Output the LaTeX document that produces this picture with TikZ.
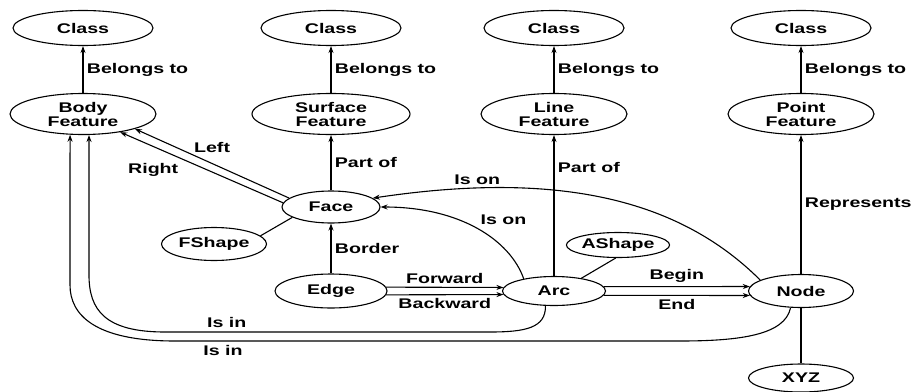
\documentclass[tikz,border=0pt]{standalone}
\usepackage{fontspec}
\setmainfont{Liberation Sans}[FakeStretch=1.4]
\usetikzlibrary{shapes, arrows.meta, positioning}

\begin{document}
\begin{tikzpicture}[x=1pt, y=1pt, node distance=86pt,
  font=\fontsize{14}{14}\selectfont\bfseries]

% Define block styles
\tikzstyle{ent} = [ellipse, draw=black, line width=1.1pt, inner sep=0pt, align=center]
\tikzstyle{cls} = [ent, minimum width=140pt, minimum height=35pt]
\tikzstyle{feat} = [ent, minimum width=146pt, minimum height=41pt]
\tikzstyle{arrow} = [line width=1.1pt, -{Stealth[length=7pt,width=5pt]}]
\tikzstyle{link} = [line width=1.1pt]

\useasboundingbox (0,0) rectangle (923,-391);

% Define nodes
\node (body) [feat] at (83,-114) {Body\\Feature};
\node (cls1) [cls, above of=body] {Class};
\node (surf) [feat, minimum width=158pt] at (331,-114) {Surface\\Feature};
\node (cls2) [cls, above of=surf] {Class};
\node (line) [feat] at (554,-114) {Line\\Feature};
\node (cls3) [cls, above of=line] {Class};
\node (point) [feat] at (801,-114) {Point\\Feature};
\node (cls4) [cls, above of=point] {Class};

\node (face) [ent, minimum width=98pt, minimum height=32pt] at (331,-207) {Face};
\node (fshape) [ent, minimum width=105pt, minimum height=33pt] at (214,-244) {FShape};
\node (edge) [ent, minimum width=112pt, minimum height=34pt] at (331,-291) {Edge};
\node (arc) [ent, minimum width=103pt, minimum height=29pt] at (554,-291) {Arc};
\node (ashape) [ent, minimum width=97pt, minimum height=25pt] at (618,-245) {AShape};
\node (pnode) [ent, minimum width=105pt, minimum height=33pt] at (801,-291) {Node};
\node (xyz) [ent, minimum width=105pt, minimum height=28pt] at (801,-378) {XYZ};

% Draw arrows
\draw [arrow] (body) -- node[right] {Belongs to} (cls1);
\draw [arrow] (surf) -- node[right] {Belongs to} (cls2);
\draw [arrow] (line) -- node[right] {Belongs to} (cls3);
\draw [arrow] (point) -- node[right] {Belongs to} (cls4);

\draw [arrow] (face) -- node[right] {Part of} (surf);
\draw [arrow] (arc) -- node[right, pos=0.77] {Part of} (line);
\draw [arrow] (pnode) -- node[right] {Represents} (point);
\draw [arrow] (edge) -- node[right] {Border} (face);

\draw [arrow] (face.168) -- node[midway, above=7pt] {Left} (body.-16);
\draw [arrow] (face.175) -- node[pos=0.62, below left] {Right} (body.-26);

\draw [arrow] (edge.4) -- node[above] {Forward} (arc.176);
\draw [arrow] (edge.-4) -- node[below] {Backward} (arc.-176);
\draw [arrow] (arc.5) -- node[above] {Begin} (pnode.175);
\draw [arrow] (arc.-5) -- node[below] {End} (pnode.-175);

\draw [link] (fshape.10) -- (face.-165);
\draw [link] (ashape.-100) -- (arc.25);
\draw [link] (pnode) -- (xyz);

% curved links back to face and body
\draw [arrow] (pnode.165) .. controls (680,-200) and (560,-170) ..
  node[pos=0.8, above] {Is on} (face.12);
\draw [arrow] (arc.158) .. controls (510,-240) and (460,-207) ..
  node[pos=0.5, above right] {Is on} (face.east);

\draw [arrow] (arc.-120) .. controls (546,-328) and (525,-332) .. (490,-332)
  -- node[above, pos=0.81] {Is in} (165,-332)
  .. controls (105,-332) and (89,-310) .. (89,-275) -- (body.-74);
\draw [arrow] (pnode.-122) .. controls (785,-335) and (740,-341) .. (680,-341)
  -- node[below, pos=0.905] {Is in} (175,-341)
  .. controls (95,-341) and (70,-315) .. (70,-285) -- (body.-122);

\end{tikzpicture}
\end{document}
